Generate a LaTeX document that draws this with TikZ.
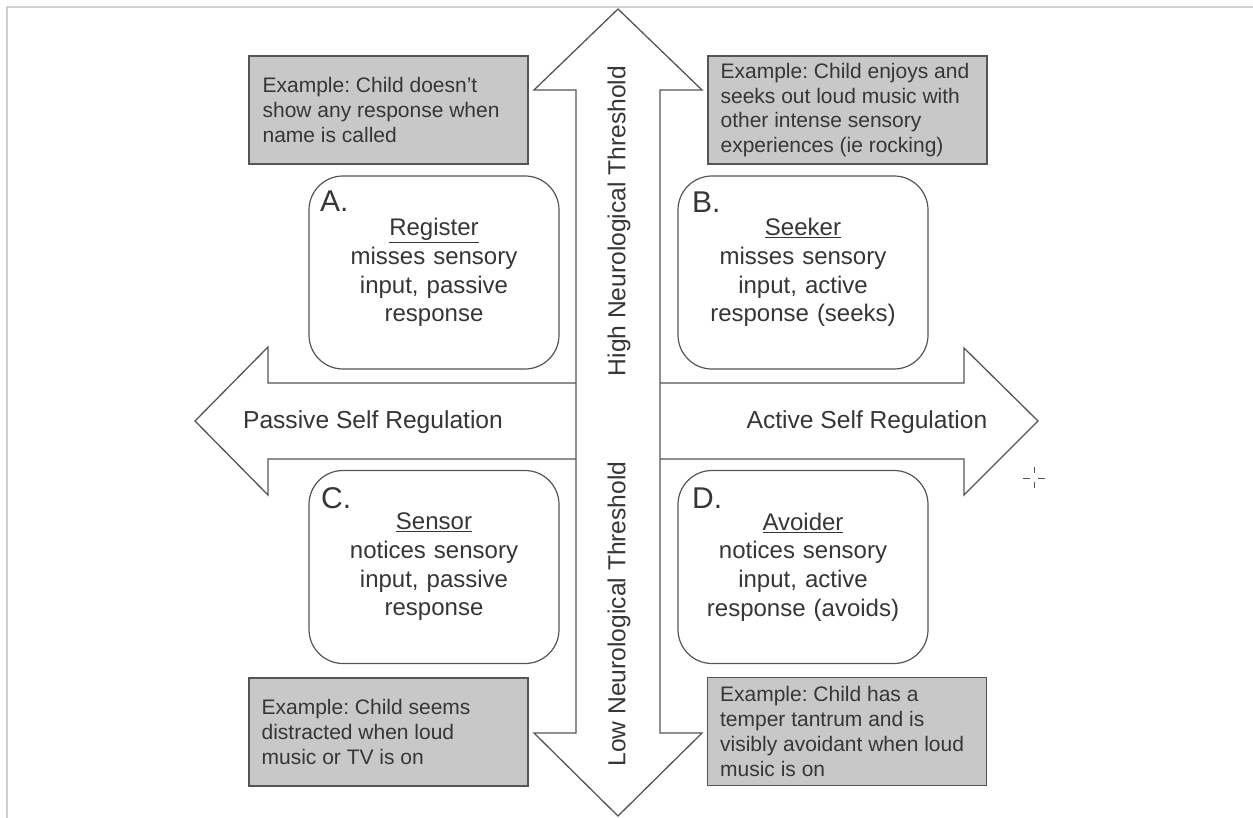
\documentclass[tikz,border=0pt]{standalone}
\usepackage{fontspec}
\setmainfont{Liberation Sans}
\frenchspacing
\definecolor{framegrey}{HTML}{D0D0D0}
\definecolor{linegrey}{HTML}{555555}
\definecolor{exfill}{HTML}{C8C8C8}
\definecolor{txt}{HTML}{363636}
\begin{document}
\begin{tikzpicture}[x=1pt,y=-1pt,
  bigarrow/.style={draw=linegrey, fill=white, line width=1.3pt, line join=miter},
  exbox/.style={draw=linegrey, fill=exfill, line width=1.2pt, minimum width=279pt, minimum height=108pt,
    inner sep=0pt},
  extext/.style={anchor=west, inner sep=0pt, align=left, text=txt,
    font=\fontsize{21}{24.8}\selectfont},
  typebox/.style={draw=linegrey, fill=white, line width=1.2pt, rounded corners=34pt,
    minimum width=250pt, minimum height=193pt, text width=230pt, align=center, text=txt,
    font=\fontsize{24}{28.6}\selectfont},
  letter/.style={anchor=base west, inner sep=0pt, text=txt, font=\fontsize{30}{30}\selectfont},
  axislabel/.style={inner sep=0pt, text=txt, font=\fontsize{24.6}{28}\selectfont},
  cursor/.style={draw=linegrey, line width=1pt}
]
\useasboundingbox (0,0) rectangle (1253,818);
% frame
\draw[framegrey, line width=2pt] (7,818) -- (7,7) -- (1253,7);

% horizontal double arrow
\draw[bigarrow] (195,421) -- (268,347) -- (268,383) -- (964,383) -- (964,348) -- (1038,421)
  -- (964,495) -- (964,459) -- (268,459) -- (268,495) -- cycle;
% vertical double arrow
\draw[bigarrow] (618,9) -- (702,90) -- (660,90) -- (660,733) -- (702,733) -- (618,816)
  -- (534,733) -- (576,733) -- (576,90) -- (534,90) -- cycle;

% axis labels
\node[axislabel] (passive) at (373,422) {Passive Self Regulation};
\node[axislabel] (active) at (867,422) {Active Self Regulation};
\node[axislabel, rotate=90] (high) at (619,221) {High Neurological Threshold};
\node[axislabel, rotate=90] (low) at (619,614) {Low Neurological Threshold};

% example boxes
\node[exbox] (exA) at (388.5,110) {};
\node[extext] (exAt) at ([xshift=14pt]exA.west) {Example: Child doesn’t\\show any response when\\name is called};
\node[exbox] (exB) at (847.5,110) {};
\node[extext] (exBt) at ([xshift=13pt]exB.west) {Example: Child enjoys and\\seeks out loud music with\\other intense sensory\\experiences (ie rocking)};
\node[exbox] (exC) at (388.5,732) {};
\node[extext] (exCt) at ([xshift=13pt]exC.west) {Example: Child seems\\distracted when loud\\music or TV is on};
\node[exbox] (exD) at (847,731.5) {};
\node[extext] (exDt) at ([xshift=13pt]exD.west) {Example: Child has a\\temper tantrum and is\\visibly avoidant when loud\\music is on};

% type boxes
\node[typebox] (boxA) at (434,272.5) {\underline{Register}\\misses sensory\\input, passive\\response};
\node[typebox] (boxB) at (803,272.5) {\underline{Seeker}\\misses sensory\\input, active\\response (seeks)};
\node[typebox] (boxC) at (434,567) {\underline{Sensor}\\notices sensory\\input, passive\\response};
\node[typebox] (boxD) at (803,567) {\underline{Avoider}\\notices sensory\\input, active\\response (avoids)};

\node[letter] (labA) at (320,212) {A.};
\node[letter] (labB) at (692,213) {B.};
\node[letter] (labC) at (321,508) {C.};
\node[letter] (labD) at (692,508) {D.};

% cursor crosshair
\coordinate (cur) at (1034,478);
\draw[cursor] (1023,478) -- (1030,478);
\draw[cursor] (1038,478) -- (1045,478);
\draw[cursor] (1034,467) -- (1034,473);
\draw[cursor] (1034,482) -- (1034,488);
\end{tikzpicture}
\end{document}
